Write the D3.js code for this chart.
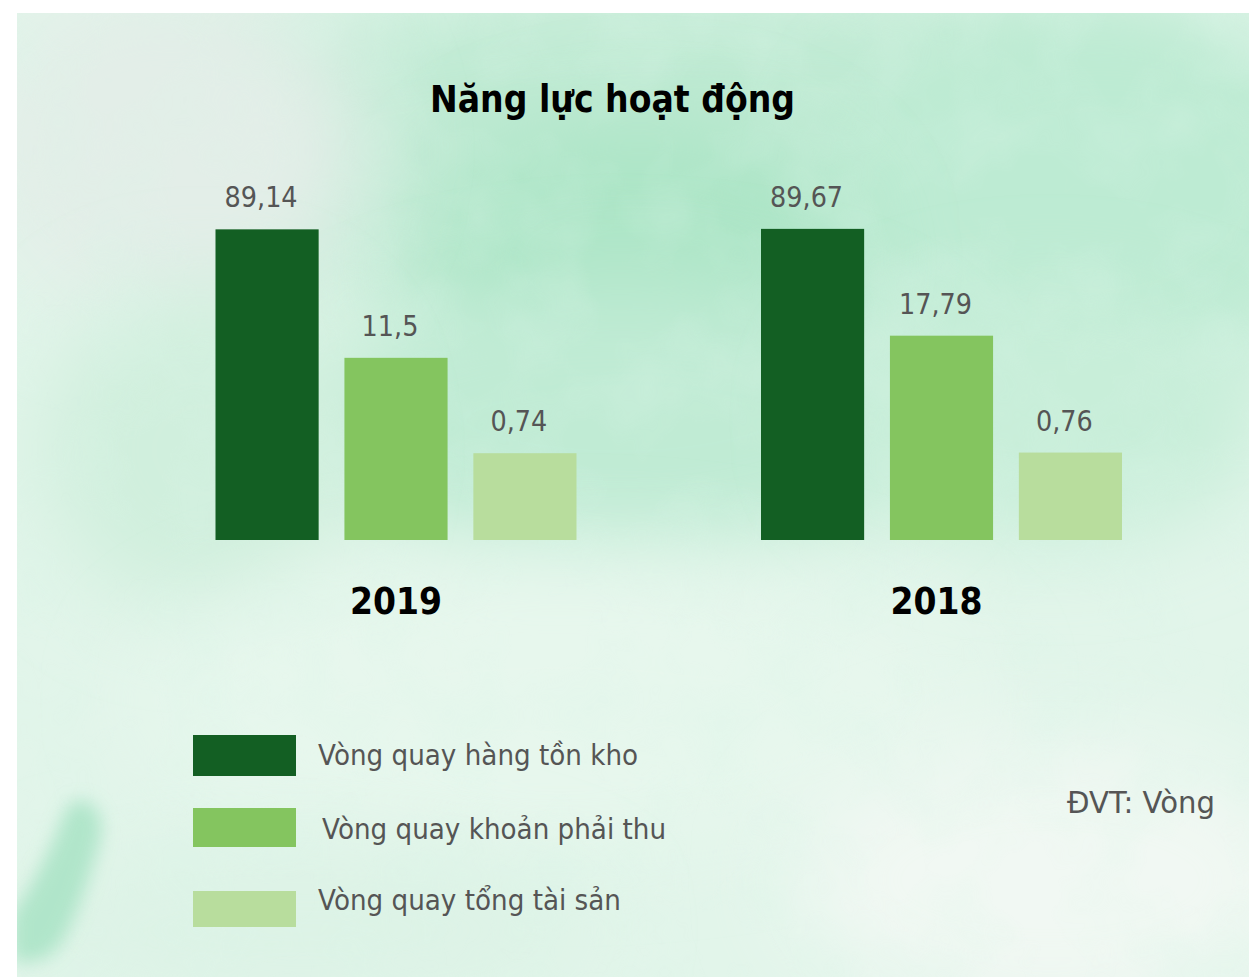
<!DOCTYPE html>
<html><head><meta charset="utf-8">
<script src="https://cdn.jsdelivr.net/npm/d3@7"></script>
<style>body{margin:0;background:#fff}svg{display:block}</style>
</head><body><svg id="c" width="1249" height="977"></svg>
<script>
// ---- data ----
const years = ["2019", "2018"];
const series = ["Vòng quay hàng tồn kho", "Vòng quay khoản phải thu", "Vòng quay tổng tài sản"];
const values2019 = [89.14, 11.5, 0.74];
const values2018 = [89.67, 17.79, 0.76];
const labels2019 = ["89,14", "11,5", "0,74"];
const labels2018 = ["89,67", "17,79", "0,76"];
const titleText = "Năng lực hoạt động";
const unitText = "ĐVT: Vòng";
const seriesColors = ["#135f23", "#84c55f", "#b8dd9d"];

const valuesByYear = {"2019": values2019, "2018": values2018};
const labelsByYear = {"2019": labels2019, "2018": labels2018};

const svg = d3.select("#c");
const W = 1249, H = 977;
const FONT = "Tahoma, 'DejaVu Sans', Verdana, sans-serif";

// ---- watercolor background ----
const defs = svg.append("defs");
defs.append("clipPath").attr("id", "bgclip").append("rect")
  .attr("x", 17).attr("y", 13).attr("width", W - 17).attr("height", H - 13);
const f = defs.append("filter").attr("id", "blur").attr("x", "-50%").attr("y", "-50%").attr("width", "200%").attr("height", "200%");
f.append("feGaussianBlur").attr("stdDeviation", 45);
const f2 = defs.append("filter").attr("id", "blur2").attr("x", "-50%").attr("y", "-50%").attr("width", "200%").attr("height", "200%");
f2.append("feGaussianBlur").attr("stdDeviation", 9);
const tx = defs.append("filter").attr("id", "tex");
tx.append("feTurbulence").attr("type", "fractalNoise").attr("baseFrequency", 0.012).attr("numOctaves", 3).attr("seed", 7).attr("result", "n");
tx.append("feColorMatrix").attr("type", "matrix")
  .attr("values", "0 0 0 0 0.70  0 0 0 0 0.91  0 0 0 0 0.80  0 0 0 -1.6 1.0");

const bg = svg.append("g").attr("clip-path", "url(#bgclip)");
bg.append("rect").attr("x", 17).attr("y", 13).attr("width", W).attr("height", H).attr("fill", "#e2f5ea");
const blobs = [
  {cx: 700, cy: 150, rx: 600, ry: 170, c: "#bfeAd3"},
  {cx: 1100, cy: 200, rx: 260, ry: 200, c: "#bdebd3"},
  {cx: 640, cy: 260, rx: 220, ry: 140, c: "#ace5c6"},
  {cx: 170, cy: 150, rx: 200, ry: 170, c: "#e3eee8"},
  {cx: 620, cy: 420, rx: 320, ry: 140, c: "#c0ebd4"},
  {cx: 1050, cy: 420, rx: 220, ry: 120, c: "#c8eed9"},
  {cx: 200, cy: 450, rx: 160, ry: 160, c: "#d0efdd"},
  {cx: 560, cy: 700, rx: 420, ry: 140, c: "#e7f7ed"},
  {cx: 1050, cy: 880, rx: 260, ry: 140, c: "#f1f8f3"},
  {cx: 300, cy: 930, rx: 300, ry: 80, c: "#ddf3e6"}
];
bg.selectAll("ellipse.b").data(blobs).join("ellipse").attr("class", "b")
  .attr("cx", d => d.cx).attr("cy", d => d.cy).attr("rx", d => d.rx).attr("ry", d => d.ry)
  .attr("fill", d => d.c).attr("filter", "url(#blur)");
bg.append("rect").attr("x", 17).attr("y", 13).attr("width", W).attr("height", H)
  .attr("filter", "url(#tex)").attr("opacity", 0.35);
// brush stroke bottom-left
bg.append("path").attr("d", "M80,800 C100,802 106,825 98,848 C88,880 78,915 60,945 C48,962 25,965 12,960 L12,915 C30,890 45,860 58,830 C64,812 70,800 80,800 Z")
  .attr("fill", "#a8e3c5").attr("filter", "url(#blur2)").attr("opacity", 0.85);

// ---- scales ----
const baseline = 540;
const x0 = d3.scalePoint().domain(years).range([396, 941.5]);
const x1 = d3.scaleBand().domain(d3.range(series.length)).range([-180.5, 180.5]).paddingInner(0.2);
// decorative compressed scale (bars in the reference are not linear)
const y = d3.scalePow().exponent(0.25).domain([0, 100]).range([baseline + 10, baseline - 320]);

function squeeze(sel, k) {
  sel.each(function() {
    const w = this.getComputedTextLength();
    d3.select(this).attr("textLength", w * k).attr("lengthAdjust", "spacingAndGlyphs");
  });
}
function fit(sel, width) {
  sel.attr("textLength", width).attr("lengthAdjust", "spacingAndGlyphs");
}

// ---- title ----
svg.append("text").attr("x", 612.5).attr("y", 112).attr("text-anchor", "middle")
  .attr("font-family", FONT).attr("font-weight", "bold").attr("font-size", 37).attr("fill", "#000")
  .text(titleText).call(fit, 365);

// ---- bars ----
const groups = svg.selectAll("g.year").data(years).join("g").attr("class", "year")
  .attr("transform", d => `translate(${x0(d)},0)`);
groups.selectAll("rect").data(yr => valuesByYear[yr].map((v, i) => ({v, i, yr})))
  .join("rect")
  .attr("x", d => x1(d.i)).attr("width", x1.bandwidth())
  .attr("y", d => y(d.v)).attr("height", d => baseline - y(d.v))
  .attr("fill", d => seriesColors[d.i]);
groups.selectAll("text.val").data(yr => valuesByYear[yr].map((v, i) => ({v, i, yr})))
  .join("text").attr("class", "val")
  .attr("x", d => x1(d.i) + x1.bandwidth() / 2 - 6).attr("y", d => y(d.v) - 22)
  .attr("text-anchor", "middle").attr("font-family", FONT).attr("font-size", 29).attr("fill", "#555")
  .text(d => labelsByYear[d.yr][d.i]).call(squeeze, 0.88);
groups.append("text").attr("class", "yr").attr("x", d => d === "2018" ? -5 : 0).attr("y", 614)
  .attr("text-anchor", "middle").attr("font-family", FONT).attr("font-weight", "bold").attr("font-size", 38).attr("fill", "#000")
  .text(d => d).call(fit, 92);

// ---- legend ----
const legY = [735, 808, 891], legH = [41, 39, 36], legTY = [765, 839, 910], legTX = [318, 322, 318];
const leg = svg.append("g");
leg.selectAll("rect").data(series).join("rect")
  .attr("x", 193).attr("y", (d, i) => legY[i]).attr("width", 103).attr("height", (d, i) => legH[i])
  .attr("fill", (d, i) => seriesColors[i]);
leg.selectAll("text").data(series).join("text")
  .attr("x", (d, i) => legTX[i]).attr("y", (d, i) => legTY[i])
  .attr("font-family", FONT).attr("font-size", 28.5).attr("fill", "#555")
  .text(d => d).call(squeeze, 0.92);

// ---- unit ----
svg.append("text").attr("x", 1067).attr("y", 813)
  .attr("font-family", FONT).attr("font-size", 30).attr("fill", "#555")
  .text(unitText).call(fit, 148);
</script></body></html>
